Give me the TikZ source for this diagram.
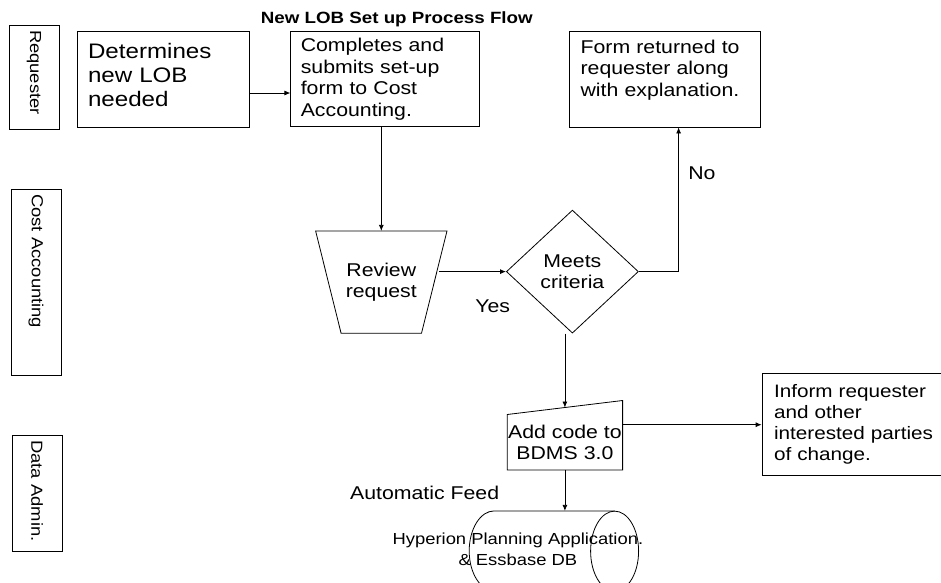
\documentclass[tikz,border=0pt]{standalone}
\usepackage{fontspec}
\setmainfont{Liberation Sans}[FakeStretch=1.15]
\usepackage{tikz}
\usetikzlibrary{arrows.meta,positioning,shapes.geometric}

\newcommand{\stdsize}{\fontsize{18.5}{21.5}\selectfont}
\newcommand{\bigsize}{\fontsize{21}{24}\selectfont}
\newcommand{\lanesize}{\fontsize{16}{19}\selectfont}
\newcommand{\headsize}{\fontsize{16.3}{19}\selectfont\bfseries}
\newcommand{\dbsize}{\fontsize{16}{21}\selectfont}

\begin{document}
\begin{tikzpicture}[x=1pt, y=-1pt,
lane/.style={draw, line width=0.8pt, rotate=-90, align=left, inner xsep=5pt, inner ysep=0pt, minimum height=50pt, font=\lanesize},
box/.style={draw, line width=0.8pt, align=left, inner xsep=10pt, inner ysep=0pt, font=\stdsize},
shapeless/.style={inner sep=0pt, align=center, font=\stdsize},
arrow/.style={-{Latex[length=6pt,width=5pt]}, line width=0.8pt}
]
\useasboundingbox (0,0) rectangle (941,582);

\node[lane, text width=94pt] (req) at (34,77) {Requester};
\node[lane, text width=176pt] (cost) at (36,282) {Cost Accounting};
\node[lane, text width=106pt] (admin) at (37,493) {Data Admin.};

\node[box, font=\bigsize, text width=150pt, inner xsep=11pt, inner ysep=12pt, text height=15pt, text depth=57pt] (det) at (163,79) {Determines\\new LOB\\needed};
\node[box, text width=169pt, minimum height=95pt, right=41pt of det] (form) {Completes and\\submits set-up\\form to Cost\\Accounting.};
\node[box, text width=169pt, inner xsep=11pt, inner ysep=8pt, text height=14pt, text depth=66pt, right=89pt of form] (ret) {Form returned to\\requester along\\with explanation.};
\node[font=\headsize, above=1pt of form, xshift=11.5pt] (title) {New LOB Set up Process Flow};

\node[shapeless, minimum width=131pt, minimum height=102pt, below=104pt of form, xshift=-4pt] (review) {Review\\request};
\draw[line width=0.8pt] (review.north west) -- (review.north east) -- ([xshift=-25.5pt]review.south east) -- ([xshift=25.5pt]review.south west) -- cycle;
\node[diamond, draw, line width=0.8pt, minimum width=132pt, minimum height=123pt, inner sep=0pt, align=center, font=\stdsize, right=59pt of review, yshift=10.5pt] (crit) {Meets\\criteria};

\node[shapeless, minimum width=115pt, minimum height=55pt, below=81pt of crit, xshift=-7.5pt] (addcode) {Add code to\\BDMS 3.0};
\draw[line width=0.8pt] (addcode.south west) -- (addcode.south east) -- ([yshift=14pt]addcode.north east) -- (addcode.north west) -- cycle;
\node[box, font=\fontsize{18}{21}\selectfont, text width=177pt, inner xsep=12pt, minimum height=102pt, right=139pt of addcode, yshift=17.5pt] (inform) {Inform requester\\and other\\interested parties\\of change.};

\node[minimum width=169pt, minimum height=80pt, inner sep=0pt, below=41pt of addcode, xshift=-11pt] (db) {};
\draw[line width=0.8pt] ([xshift=-24pt]db.north east) -- ([xshift=25pt]db.north west) arc[start angle=90, end angle=270, x radius=25pt, y radius=40pt] -- ([xshift=-24pt]db.south east);
\draw[line width=0.8pt] ([xshift=-24pt]db.east) ellipse[x radius=24pt, y radius=40pt];
\node[font=\dbsize, align=center] (dbtext) at ([xshift=-36pt,yshift=2pt]db.center) {Hyperion Planning Application.\\\& Essbase DB};

\draw[arrow] ([yshift=-14pt]det.east) -- ([yshift=-14pt]det.east -| form.west);
\draw[arrow] (review.north |- form.south) -- (review.north);
\draw[arrow] ([xshift=-8pt]review.east |- crit.west) -- node[pos=0.8, below=24pt, font=\stdsize] (yes) {Yes} (crit.west);
\draw[arrow] (crit.east) -| node[pos=0.84, right=6pt, font=\stdsize] (no) {No} ([xshift=13.5pt]ret.south);
\draw[arrow] (addcode.north |- crit.south) -- ([yshift=7pt]addcode.north);
\draw[arrow] (addcode.east |- inform.west) -- (inform.west);
\draw[arrow] (addcode.south) -- node[pos=0.56, left=62pt, font=\stdsize] (feed) {Automatic Feed} (addcode.south |- db.north);
\end{tikzpicture}
\end{document}
